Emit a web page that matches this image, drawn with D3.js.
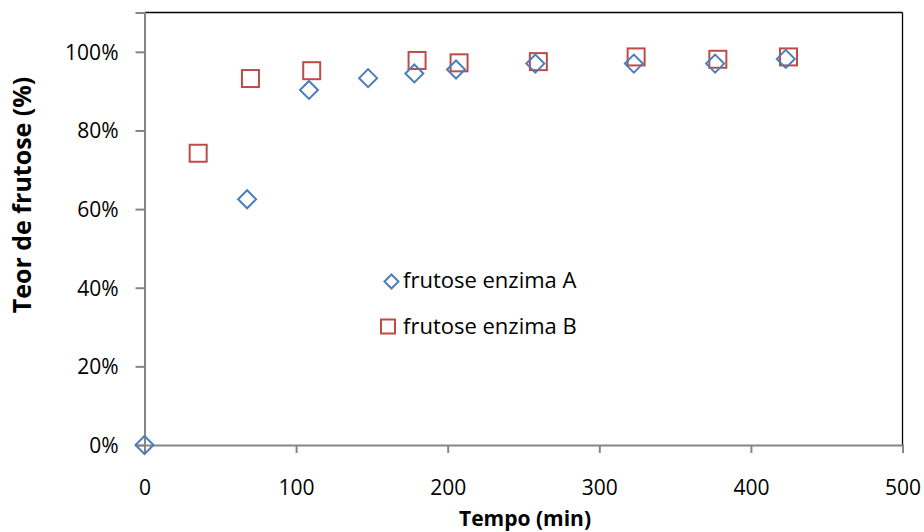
<!DOCTYPE html>
<html>
<head>
<meta charset="utf-8">
<script src="https://cdn.jsdelivr.net/npm/d3@7"></script>
<style>
  body { margin: 0; background: #fff; }
  svg { display: block; font-family: "Open Sans", "Liberation Sans", sans-serif; }
</style>
</head>
<body>
<div id="chart"></div>
<script>
// series data (time in min, fructose fraction)
const timeA = [0, 67.7, 108.5, 147.5, 178, 205.5, 257.8, 322.8, 376.4, 423];
const valueA = [0, 0.625, 0.903, 0.933, 0.945, 0.955, 0.970, 0.970, 0.970, 0.982];
const timeB = [35.4, 69.9, 110.3, 179.8, 207.5, 259.8, 324.3, 378.2, 424.8];
const valueB = [0.742, 0.932, 0.952, 0.978, 0.972, 0.975, 0.987, 0.981, 0.987];

const xTicks = [0, 100, 200, 300, 400, 500];
const yTicks = [0, 0.2, 0.4, 0.6, 0.8, 1.0];
const seriesNames = ["frutose enzima A", "frutose enzima B"];

const width = 924, height = 532;
const margin = {left: 144.5, right: 21.5, top: 12.5, bottom: 87};

const svg = d3.select('#chart')
    .append('svg')
    .attr('width', width)
    .attr('height', height);

const x = d3.scaleLinear().domain([0, 500]).range([margin.left, width - margin.right]);
const y = d3.scaleLinear().domain([0, 1.1]).range([height - margin.bottom, margin.top]);

const blue = '#4a7ebb', red = '#be4b48';

// top and right frame lines
svg.append('line')
    .attr('x1', x(0)).attr('x2', x(500))
    .attr('y1', y(1.1)).attr('y2', y(1.1))
    .attr('stroke', '#000').attr('stroke-width', 1.3);
svg.append('line')
    .attr('x1', x(500)).attr('x2', x(500))
    .attr('y1', y(1.1)).attr('y2', y(0))
    .attr('stroke', '#000').attr('stroke-width', 1.3);

// axes
const xAxis = svg.append('g')
    .attr('transform', 'translate(0,' + y(0) + ')')
    .call(d3.axisBottom(x).tickValues(xTicks).tickSize(8));
const yAxis = svg.append('g')
    .attr('transform', 'translate(' + x(0) + ',0)')
    .call(d3.axisLeft(y).tickValues(yTicks).tickSize(9)
        .tickFormat(d3.format('.0%')));

[xAxis, yAxis].forEach(g => {
    g.select('.domain').attr('stroke', '#868686').attr('stroke-width', 2);
    g.selectAll('.tick line').attr('stroke', '#868686').attr('stroke-width', 2);
    g.selectAll('.tick text')
        .attr('fill', '#000')
        .attr('dy', 0)
        .style('font-size', '21px')
        .style('font-family', '"Open Sans", sans-serif');
});
xAxis.selectAll('.tick text').attr('y', 50);
yAxis.selectAll('.tick text').attr('x', -26).attr('y', 7.5);

// axis titles
svg.append('text')
    .attr('x', 525)
    .attr('y', 526)
    .attr('text-anchor', 'middle')
    .style('font-size', '21px')
    .style('font-weight', 'bold')
    .text('Tempo (min)');

svg.append('text')
    .attr('transform', 'translate(31,195)rotate(-90)')
    .attr('text-anchor', 'middle')
    .style('font-size', '25px')
    .style('font-weight', 'bold')
    .text('Teor de frutose (%)');

const dataA = timeA.map((t, i) => ({t: t, v: valueA[i]}));
const dataB = timeB.map((t, i) => ({t: t, v: valueB[i]}));

const diamond = r => 'M0,' + (-r) + 'L' + r + ',0L0,' + r + 'L' + (-r) + ',0Z';

// series B (squares)
svg.append('g').selectAll('rect')
    .data(dataB).enter()
    .append('rect')
    .attr('x', d => x(d.t) - 8.5)
    .attr('y', d => y(d.v) - 8.5)
    .attr('width', 17)
    .attr('height', 17)
    .attr('fill', 'none')
    .attr('stroke', red)
    .attr('stroke-width', 2);

// series A (diamonds)
svg.append('g').selectAll('path')
    .data(dataA).enter()
    .append('path')
    .attr('transform', d => 'translate(' + x(d.t) + ',' + y(d.v) + ')')
    .attr('d', diamond(9))
    .attr('fill', 'none')
    .attr('stroke', blue)
    .attr('stroke-width', 2);

// legend
const legend = svg.append('g');
legend.append('path')
    .attr('transform', 'translate(391.5,281.5)')
    .attr('d', diamond(7))
    .attr('fill', 'none')
    .attr('stroke', blue)
    .attr('stroke-width', 2);
legend.append('rect')
    .attr('x', 381).attr('y', 319.5)
    .attr('width', 14).attr('height', 14)
    .attr('fill', 'none')
    .attr('stroke', red)
    .attr('stroke-width', 2);
legend.selectAll('text')
    .data(seriesNames).enter()
    .append('text')
    .attr('x', 403)
    .attr('y', (d, i) => 288 + i * 45.5)
    .style('font-size', '22px')
    .text(d => d);
</script>
</body>
</html>
